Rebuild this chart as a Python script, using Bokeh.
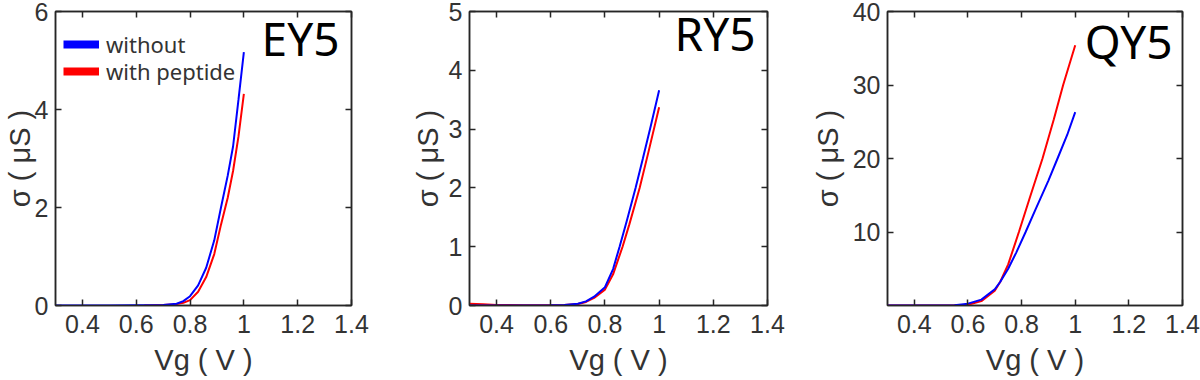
from bokeh.plotting import figure
from bokeh.models import LinearAxis, FixedTicker, Range1d, Legend, LegendItem, Label
from bokeh.layouts import row
from bokeh.embed import file_html
from bokeh.resources import INLINE

# ---------------- data ----------------
x_ticks = [0.4, 0.6, 0.8, 1.0, 1.2, 1.4]
x_tick_labels = ["0.4", "0.6", "0.8", "1", "1.2", "1.4"]
x_title = "Vg ( V )"
y_title = "σ ( μS )"

panel_names = ["EY5", "RY5", "QY5"]
y_max = [6, 5, 40]
y_ticks = [[0, 2, 4, 6], [0, 1, 2, 3, 4, 5], [10, 20, 30, 40]]

# EY5
ey5_x_without = [0.3, 0.4, 0.5, 0.6, 0.65, 0.7, 0.75, 0.775, 0.8, 0.83, 0.86, 0.89, 0.915, 0.94, 0.96, 0.98, 1.0]
ey5_without = [0, 0, 0, 0.003, 0.005, 0.012, 0.035, 0.09, 0.19, 0.41, 0.77, 1.33, 2.0, 2.65, 3.25, 4.2, 5.17]
ey5_x_with = [0.63, 0.65, 0.7, 0.75, 0.775, 0.8, 0.83, 0.86, 0.89, 0.915, 0.94, 0.96, 0.98, 1.0]
ey5_with = [0, 0.002, 0.01, 0.028, 0.055, 0.11, 0.28, 0.58, 1.05, 1.65, 2.2, 2.75, 3.45, 4.32]

# RY5
ry5_x_without = [0.3, 0.4, 0.5, 0.6, 0.65, 0.7, 0.73, 0.76, 0.8, 0.83, 0.854, 0.88, 0.913, 0.94, 0.97, 1.0]
ry5_without = [0, 0, 0, 0.005, 0.01, 0.03, 0.07, 0.15, 0.31, 0.62, 1.0, 1.43, 2.0, 2.5, 3.07, 3.66]
ry5_x_with = [0.3, 0.35, 0.4, 0.5, 0.6, 0.65, 0.7, 0.73, 0.76, 0.8, 0.83, 0.865, 0.89, 0.928, 0.96, 1.0]
ry5_with = [0.03, 0.02, 0.01, 0.005, 0.005, 0.01, 0.025, 0.06, 0.13, 0.27, 0.53, 1.0, 1.38, 2.0, 2.6, 3.37]

# QY5
qy5_x_without = [0.3, 0.4, 0.5, 0.55, 0.6, 0.65, 0.7, 0.72, 0.75, 0.78, 0.815, 0.85, 0.9, 0.934, 0.97, 1.0]
qy5_without = [0, 0, 0, 0.05, 0.25, 0.8, 2.2, 3.2, 5.0, 7.2, 10.0, 12.9, 17.0, 20.0, 23.2, 26.3]
qy5_x_with = [0.3, 0.4, 0.5, 0.55, 0.6, 0.65, 0.7, 0.72, 0.75, 0.79, 0.83, 0.878, 0.92, 0.955, 1.0]
qy5_with = [0, 0, 0, 0.02, 0.1, 0.6, 2.0, 3.2, 5.6, 10.0, 14.6, 20.0, 25.3, 30.0, 35.4]

series_without = [(ey5_x_without, ey5_without), (ry5_x_without, ry5_without), (qy5_x_without, qy5_without)]
series_with = [(ey5_x_with, ey5_with), (ry5_x_with, ry5_with), (qy5_x_with, qy5_with)]
legend_labels = ["without", "with peptide"]

# ---------------- style ----------------
AX = "#262626"
TXT = "#333333"
TICK_FONT = "Liberation Sans"
HEIGHT = 380
BOTTOM = 75
widths = [405, 402, 393]
borders = [(54, 54, 11), (64, 40, 9), (80, 18, 9)]  # left, right, top (px)
ylab_standoff = [-4, 2, 6]
# title text placement in screen px from each frame's bottom-left corner
title_xy = [(284, 268), (286, 273), (285, 265)]
legend_y = [246, 219]


def style_axis(ax, ticks, show_labels, overrides=None):
    ax.ticker = FixedTicker(ticks=ticks)
    ax.minor_tick_line_color = None
    ax.major_tick_in = 6
    ax.major_tick_out = 0
    ax.major_tick_line_color = AX
    ax.major_tick_line_width = 1.5
    ax.axis_line_color = AX
    ax.axis_line_width = 1.5
    if show_labels:
        ax.major_label_text_font = TICK_FONT
        ax.major_label_text_font_size = "25px"
        ax.major_label_text_color = TXT
        if overrides:
            ax.major_label_overrides = overrides
    else:
        ax.major_label_text_font_size = "1px"
        ax.major_label_text_color = None
        ax.major_label_standoff = 0


def style_title(ax, text, standoff):
    ax.axis_label = text
    ax.axis_label_text_font = TICK_FONT
    ax.axis_label_text_font_size = "29px"
    ax.axis_label_text_font_style = "normal"
    ax.axis_label_text_color = TXT
    ax.axis_label_standoff = standoff


figs = []
for i in range(3):
    bl, br, bt = borders[i]
    p = figure(width=widths[i], height=HEIGHT,
               x_range=Range1d(0.3, 1.4), y_range=Range1d(0, y_max[i]),
               output_backend="svg", toolbar_location=None,
               min_border_left=bl, min_border_right=br,
               min_border_top=bt, min_border_bottom=BOTTOM)
    p.xgrid.visible = False
    p.ygrid.visible = False
    p.outline_line_color = AX
    p.outline_line_width = 1.5
    p.background_fill_color = "white"
    p.border_fill_color = "white"

    style_axis(p.xaxis[0], x_ticks, True, dict(zip(x_ticks, x_tick_labels)))
    p.xaxis[0].major_label_standoff = 9
    style_title(p.xaxis[0], x_title, 8)

    style_axis(p.yaxis[0], y_ticks[i], True)
    p.yaxis[0].major_label_standoff = 7
    style_title(p.yaxis[0], y_title, ylab_standoff[i])

    top = LinearAxis()
    style_axis(top, x_ticks, False)
    p.add_layout(top, "above")
    right = LinearAxis()
    style_axis(right, y_ticks[i], False)
    p.add_layout(right, "right")

    xr, yr = series_with[i]
    p.line(xr, yr, line_color="#FF0000", line_width=2)
    xb, yb = series_without[i]
    p.line(xb, yb, line_color="#0000FF", line_width=2)

    tx, ty = title_xy[i]
    p.add_layout(Label(x=tx, y=ty, x_units="screen", y_units="screen",
                       text=panel_names[i], text_font="Noto Sans",
                       text_font_size="46px", text_color="black",
                       text_align="right", text_baseline="middle"))

    if i == 0:
        # legend swatches: thick copies of the two curves, hidden in the plot
        key_b = p.line(xb, yb, line_color="#0000FF", line_width=8, visible=False)
        key_r = p.line(xr, yr, line_color="#FF0000", line_width=8, visible=False)
        for lab, rend, ly in zip(legend_labels, [key_b, key_r], legend_y):
            leg = Legend(items=[LegendItem(label=lab, renderers=[rend])], location=(8, ly))
            leg.glyph_width = 36
            leg.glyph_height = 20
            leg.label_height = 20
            leg.label_standoff = 7
            leg.padding = 0
            leg.margin = 0
            leg.border_line_alpha = 0
            leg.background_fill_alpha = 0
            leg.label_text_font = "Noto Sans"
            leg.label_text_font_size = "22px"
            leg.label_text_color = TXT
            p.add_layout(leg, "center")
    figs.append(p)

layout = row(*figs)
open("out.html", "w").write(file_html(layout, INLINE))
